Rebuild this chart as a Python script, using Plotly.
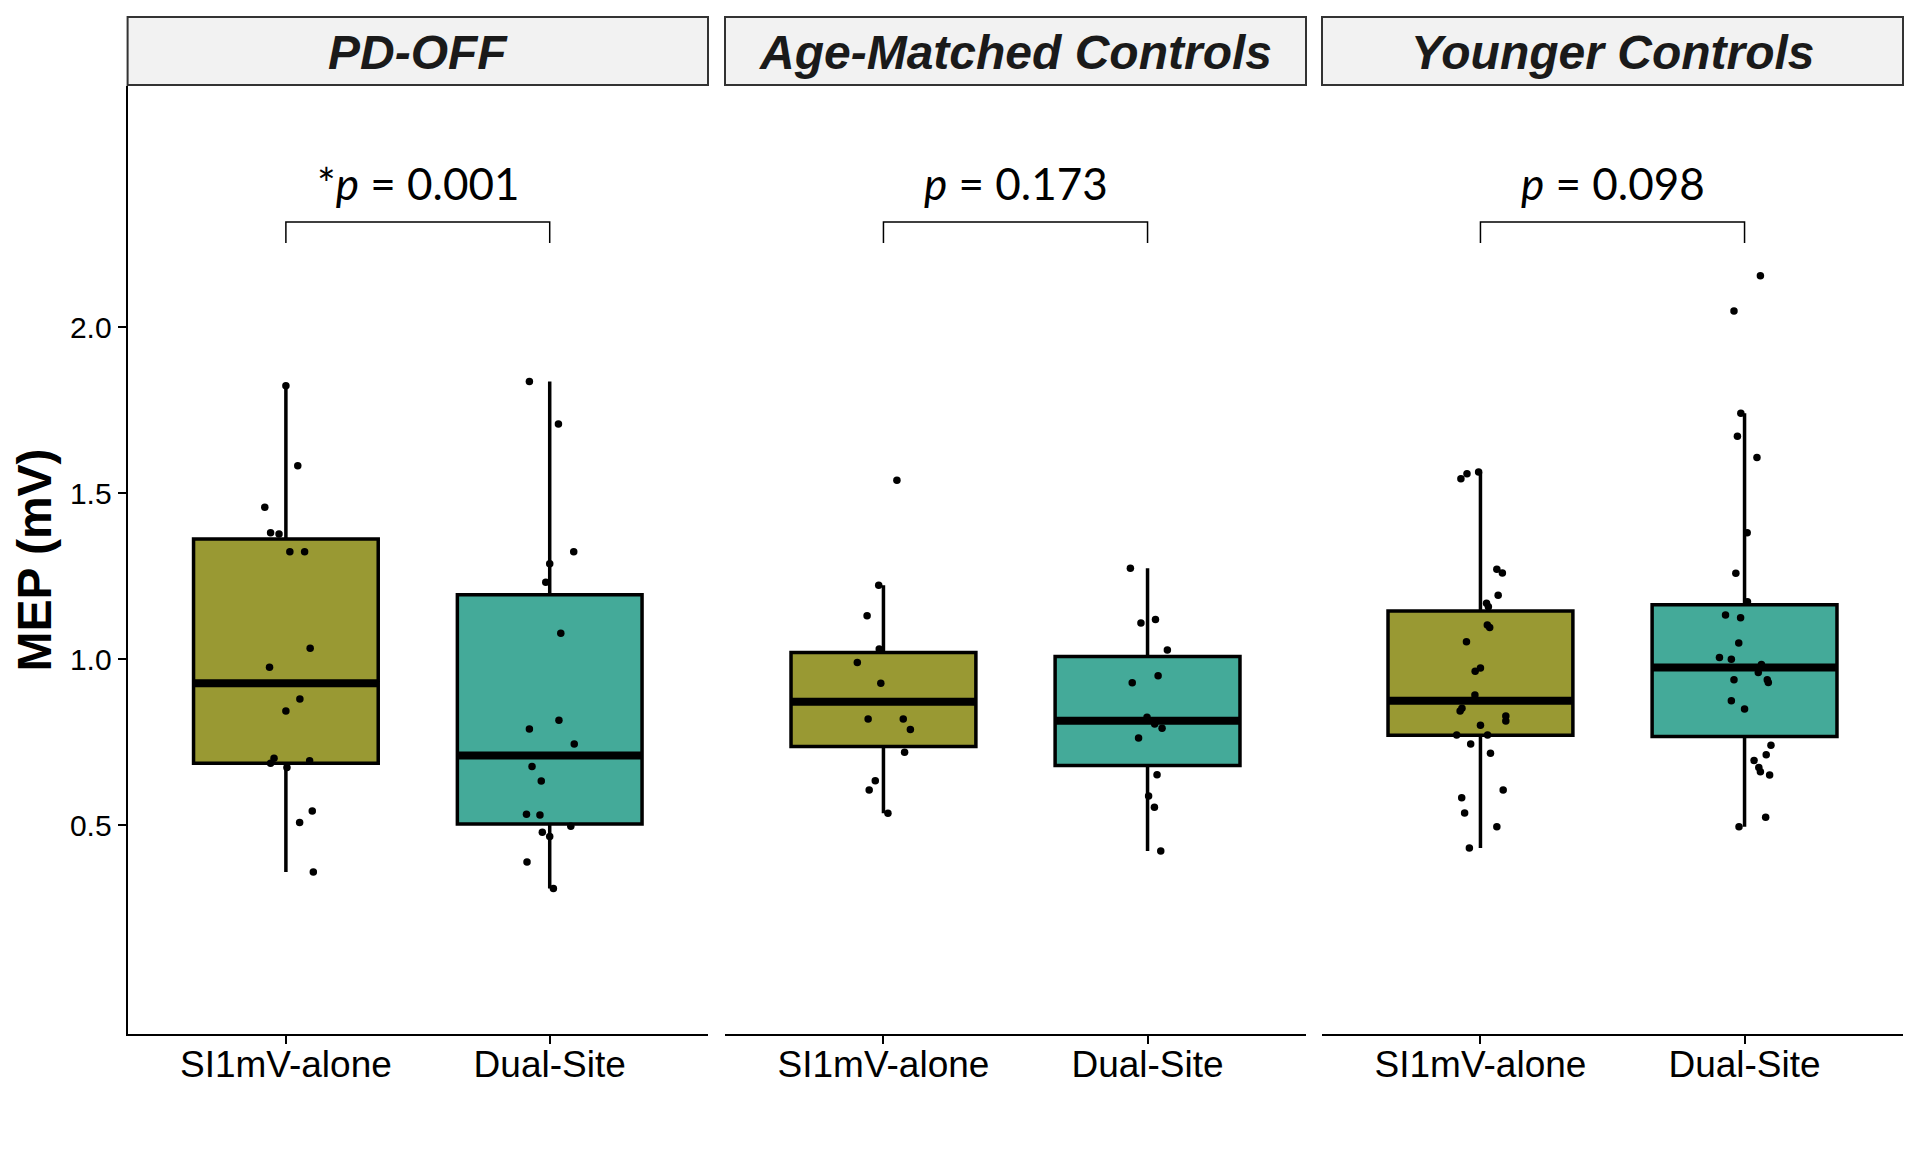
import plotly.graph_objects as go

W, H = 1905, 1153

groups = ["PD-OFF", "Age-Matched Controls", "Younger Controls"]
conditions = ["SI1mV-alone", "Dual-Site"]
p_labels = ["*<i>p</i> = 0.001", "<i>p</i> = 0.173", "<i>p</i> = 0.098"]
y_ticks = [0.5, 1.0, 1.5, 2.0]
y_tick_text = ["0.5", "1.0", "1.5", "2.0"]

# individual MEP values (mV) and horizontal jitter (category units)
pd_si = [1.824, 1.583, 1.458, 1.381, 1.377, 1.324, 1.324, 1.033, 0.976, 0.880, 0.844, 0.702, 0.694, 0.687, 0.674, 0.543, 0.508, 0.359]
pd_si_jit = [0.0, 0.045, -0.08, -0.058, -0.026, 0.015, 0.071, 0.092, -0.062, 0.053, 0.0, -0.045, 0.09, -0.058, 0.004, 0.10, 0.052, 0.104]
pd_ds = [1.837, 1.709, 1.324, 1.288, 1.232, 1.078, 0.816, 0.790, 0.745, 0.677, 0.633, 0.533, 0.531, 0.497, 0.479, 0.466, 0.389, 0.309]
pd_ds_jit = [-0.077, 0.033, 0.091, 0.0, -0.015, 0.042, 0.035, -0.077, 0.093, -0.067, -0.032, -0.088, -0.037, 0.08, -0.028, 0.0, -0.086, 0.014]

am_si = [1.539, 1.223, 1.131, 1.031, 0.990, 0.928, 0.820, 0.820, 0.788, 0.720, 0.634, 0.606, 0.536]
am_si_jit = [0.051, -0.018, -0.062, -0.016, -0.099, -0.01, -0.058, 0.075, 0.102, 0.08, -0.031, -0.054, 0.017]
am_ds = [1.274, 1.120, 1.109, 1.028, 0.950, 0.929, 0.825, 0.805, 0.792, 0.763, 0.652, 0.588, 0.554, 0.422]
am_ds_jit = [-0.065, 0.03, -0.025, 0.075, 0.04, -0.058, -0.002, 0.027, 0.055, -0.034, 0.036, 0.004, 0.026, 0.05]

yc_si = [1.564, 1.559, 1.544, 1.271, 1.260, 1.193, 1.169, 1.158, 1.103, 1.096, 1.053, 0.974, 0.964, 0.892, 0.852, 0.844, 0.829, 0.814, 0.801, 0.772, 0.772, 0.745, 0.717, 0.606, 0.583, 0.537, 0.495, 0.431]
yc_si_jit = [-0.007, -0.051, -0.074, 0.062, 0.083, 0.067, 0.023, 0.03, 0.026, 0.035, -0.053, 0.0, -0.02, -0.021, -0.07, -0.077, 0.096, 0.096, 0.0, -0.09, 0.027, -0.037, 0.038, 0.086, -0.071, -0.06, 0.062, -0.042]
yc_ds = [2.155, 2.049, 1.741, 1.672, 1.608, 1.381, 1.259, 1.173, 1.133, 1.125, 1.049, 1.005, 1.000, 0.984, 0.960, 0.938, 0.938, 0.930, 0.875, 0.850, 0.741, 0.712, 0.695, 0.674, 0.661, 0.651, 0.524, 0.495]
yc_ds_jit = [0.06, -0.04, -0.014, -0.027, 0.047, 0.01, -0.033, 0.011, -0.072, -0.015, -0.022, -0.095, -0.05, 0.064, 0.052, 0.086, -0.04, 0.09, -0.05, 0.0, 0.1, 0.082, 0.036, 0.054, 0.06, 0.095, 0.08, -0.021]

# box statistics per group: [SI1mV-alone, Dual-Site]
box_q1 = [[0.687, 0.504], [0.737, 0.680], [0.771, 0.767]]
box_median = [[0.928, 0.710], [0.872, 0.815], [0.875, 0.975]]
box_q3 = [[1.362, 1.194], [1.020, 1.008], [1.145, 1.164]]
box_low = [[0.359, 0.309], [0.536, 0.422], [0.431, 0.495]]
box_high = [[1.824, 1.837], [1.223, 1.274], [1.564, 1.741]]

points = [[(pd_si, pd_si_jit), (pd_ds, pd_ds_jit)],
          [(am_si, am_si_jit), (am_ds, am_ds_jit)],
          [(yc_si, yc_si_jit), (yc_ds, yc_ds_jit)]]

fill_colors = ["#999933", "#44AA99"]
BOX_W = 0.7
Y_RANGE = [-0.129, 2.727]
BRACKET_TOP, BRACKET_LEG = 2.317, 2.254
P_TEXT_Y = 2.435

# panel geometry in pixels
panel_px = [(127.6, 708.0), (725.0, 1306.0), (1322.0, 1903.0)]
plot_top_px, plot_bot_px = 86.0, 1034.0
strip_top_px, strip_bot_px = 17.0, 85.0

AXFONT = "Liberation Sans, Arial, sans-serif"

fig = go.Figure()
layout_axes = {}
shapes = []
annotations = []

for gi, g in enumerate(groups):
    sfx = "" if gi == 0 else str(gi + 1)
    xa, ya = "x" + sfx, "y" + sfx
    for ci in range(2):
        xpos = ci + 1
        fig.add_trace(go.Box(
            x=[xpos], q1=[box_q1[gi][ci]], median=[box_median[gi][ci]], q3=[box_q3[gi][ci]],
            lowerfence=[box_low[gi][ci]], upperfence=[box_high[gi][ci]],
            width=BOX_W, whiskerwidth=0, boxpoints=False,
            fillcolor=fill_colors[ci], line=dict(color="black", width=3.5),
            xaxis=xa, yaxis=ya, showlegend=False, hoverinfo="skip"))
        # thick median line
        fig.add_trace(go.Scatter(
            x=[xpos - BOX_W / 2, xpos + BOX_W / 2],
            y=[box_median[gi][ci], box_median[gi][ci]],
            mode="lines", line=dict(color="black", width=8),
            xaxis=xa, yaxis=ya, showlegend=False, hoverinfo="skip"))
    for ci in range(2):
        vals, jit = points[gi][ci]
        fig.add_trace(go.Scatter(
            x=[ci + 1 + j for j in jit], y=vals, mode="markers",
            marker=dict(color="black", size=7.5),
            xaxis=xa, yaxis=ya, showlegend=False, hoverinfo="skip"))
    # significance bracket
    fig.add_trace(go.Scatter(
        x=[1, 1, 2, 2], y=[BRACKET_LEG, BRACKET_TOP, BRACKET_TOP, BRACKET_LEG],
        mode="lines", line=dict(color="black", width=1.5),
        xaxis=xa, yaxis=ya, showlegend=False, hoverinfo="skip"))
    annotations.append(dict(
        x=1.5, y=P_TEXT_Y, xref=xa, yref=ya, text=p_labels[gi], showarrow=False,
        xanchor="center", yanchor="middle",
        font=dict(family="Lato, Open Sans, sans-serif", size=44, color="black")))

    x0, x1 = panel_px[gi]
    dom = [x0 / W, x1 / W]
    ydom = [(H - plot_bot_px) / H, (H - plot_top_px) / H]
    layout_axes["xaxis" + sfx] = dict(
        domain=dom, range=[0.4, 2.6], tickvals=[1, 2], ticktext=conditions,
        showline=True, linecolor="black", linewidth=2, ticks="outside", ticklen=8,
        tickwidth=2, tickcolor="black", showgrid=False, zeroline=False,
        ticklabelstandoff=-11,
        tickfont=dict(family=AXFONT, size=37, color="black"),
        anchor=ya, fixedrange=True)
    yax = dict(domain=ydom, range=Y_RANGE, showgrid=False, zeroline=False,
               anchor=xa, fixedrange=True)
    if gi == 0:
        yax.update(tickvals=y_ticks, ticktext=y_tick_text, showline=True, linecolor="black",
                   linewidth=2, ticks="outside", ticklen=8, tickwidth=2, tickcolor="black",
                   tickfont=dict(family=AXFONT, size=30, color="black"),
                   title=dict(text="MEP (mV)", standoff=3,
                              font=dict(family=AXFONT, size=48, color="black", weight="bold")))
    else:
        yax.update(showline=False, showticklabels=False, ticks="")
    layout_axes["yaxis" + sfx] = yax

    # facet strip
    shapes.append(dict(type="rect", xref="paper", yref="paper",
                       x0=dom[0], x1=dom[1],
                       y0=(H - strip_bot_px) / H, y1=(H - strip_top_px) / H,
                       fillcolor="#F2F2F2", line=dict(color="#333333", width=2), layer="below"))
    annotations.append(dict(
        x=(dom[0] + dom[1]) / 2, y=(H - (strip_top_px + strip_bot_px) / 2 - 1) / H,
        xref="paper", yref="paper", text="<b><i>" + g + "</i></b>", showarrow=False,
        xanchor="center", yanchor="middle",
        font=dict(family=AXFONT, size=48, color="#1a1a1a")))

fig.update_layout(
    width=W, height=H, margin=dict(l=0, r=0, t=0, b=0),
    paper_bgcolor="white", plot_bgcolor="white",
    shapes=shapes, annotations=annotations, showlegend=False,
    **layout_axes)

fig.write_html("out.html", config={"displayModeBar": False},
               post_script="document.body.style.margin='0';document.body.style.overflow='hidden';")
